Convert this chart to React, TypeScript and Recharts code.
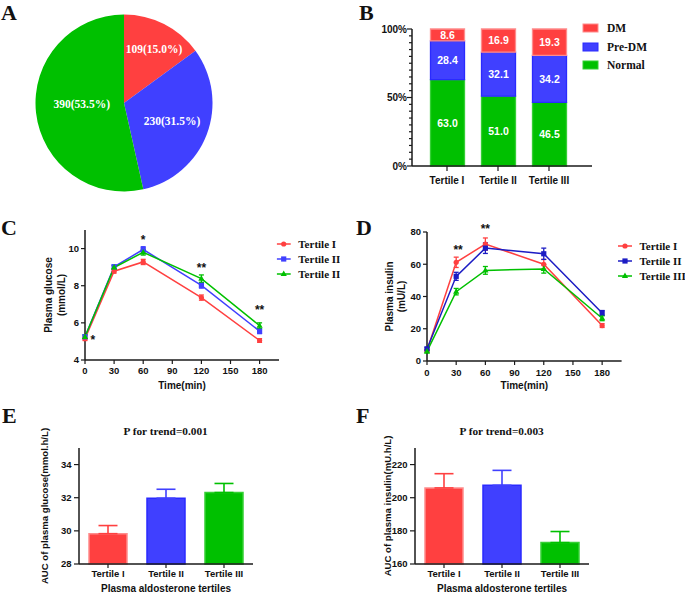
import React from "react";
import {
  PieChart,
  Pie,
  Cell,
  BarChart,
  Bar,
  LabelList,
  ErrorBar,
  LineChart,
  Line,
  ReferenceDot,
  XAxis,
  YAxis,
} from "recharts";

// ---------------------------------------------------------------------------
// Data
// ---------------------------------------------------------------------------

const GROUPS = ["DM", "Pre-DM", "Normal"];
const GROUP_COUNTS = [109, 230, 390];
const GROUP_PCT = ["15.0", "31.5", "53.5"];

const TERTILES = ["Tertile I", "Tertile II", "Tertile III"];
const NORMAL_PCT = [63.0, 51.0, 46.5];
const PREDM_PCT = [28.4, 32.1, 34.2];
const DM_PCT = [8.6, 16.9, 19.3];
const PCT_TICKS = [0, 5, 10, 15, 20, 25, 30, 35, 40, 45, 50, 55, 60, 65, 70, 75, 80, 85, 90, 95, 100];
const PCT_LABELED = [0, 50, 100];

const TIMES = [0, 30, 60, 120, 180];
const TIME_TICKS = [0, 30, 60, 90, 120, 150, 180];

const GLUCOSE_T1 = [5.15, 8.78, 9.28, 7.36, 5.05];
const GLUCOSE_T1_SE = [0.1, 0.1, 0.14, 0.14, 0.1];
const GLUCOSE_T2 = [5.25, 9.02, 9.95, 8.02, 5.55];
const GLUCOSE_T2_SE = [0.1, 0.1, 0.15, 0.15, 0.13];
const GLUCOSE_T3 = [5.25, 8.98, 9.8, 8.38, 5.85];
const GLUCOSE_T3_SE = [0.1, 0.1, 0.15, 0.2, 0.15];
const GLUCOSE_TICKS = [4, 6, 8, 10];
const GLUCOSE_STARS = [
  { t: 8, v: 5.08, text: "*" },
  { t: 60, v: 10.5, text: "*" },
  { t: 120, v: 8.98, text: "**" },
  { t: 180, v: 6.7, text: "**" },
];

const INSULIN_T1 = [6.5, 61.2, 72.5, 60.0, 22.0];
const INSULIN_T1_SE = [1.0, 3.2, 3.8, 3.0, 1.2];
const INSULIN_T2 = [7.5, 52.5, 70.0, 66.5, 29.8];
const INSULIN_T2_SE = [1.0, 2.5, 3.3, 3.5, 1.5];
const INSULIN_T3 = [6.0, 43.0, 56.2, 57.1, 26.5];
const INSULIN_T3_SE = [1.0, 2.0, 2.4, 2.6, 1.5];
const INSULIN_TICKS = [0, 20, 40, 60, 80];
const INSULIN_STARS = [
  { t: 32, v: 68.7, text: "**" },
  { t: 60, v: 82.1, text: "**" },
];

const AUC_GLUCOSE = [29.83, 31.97, 32.31];
const AUC_GLUCOSE_SE = [0.49, 0.54, 0.55];
const AUC_GLUCOSE_TICKS = [28, 30, 32, 34];

const AUC_INSULIN = [205.9, 207.5, 172.9];
const AUC_INSULIN_SE = [8.6, 9.0, 6.7];
const AUC_INSULIN_TICKS = [160, 180, 200, 220];

// ---------------------------------------------------------------------------
// Style tokens
// ---------------------------------------------------------------------------

const SANS = "'Liberation Sans', Arial, Helvetica, sans-serif";
const SERIF = "'Liberation Serif', 'Times New Roman', serif";
const INK = "#111";
const AXIS = "#1a1a1a";

const RED = "#FF4040";
const BLUE = "#4040FF";
const GREEN = "#00C000";
const NAVY = "#1C1CC4";
const RED_EDGE = "#FF8C8C";
const BLUE_EDGE = "#2A2AFF";
const GREEN_EDGE = "#35CF35";

const GROUP_COLORS = [RED, BLUE, GREEN];
const GROUP_EDGES = [RED_EDGE, BLUE_EDGE, GREEN_EDGE];

const AXIS_LINE = { stroke: AXIS, strokeWidth: 1.5 };
const TICK_LINE = { stroke: AXIS, strokeWidth: 1.2 };
const tickStyle = (size: number) => ({
  fill: INK,
  fontSize: size,
  fontWeight: "bold",
  fontFamily: SANS,
});

type Shape = "circle" | "square" | "triangle";

function marker(shape: Shape, cx: number, cy: number, color: string, key?: string) {
  if (shape === "circle") return <circle key={key} cx={cx} cy={cy} r={2.6} fill={color} />;
  if (shape === "square")
    return <rect key={key} x={cx - 2.6} y={cy - 2.6} width={5.2} height={5.2} fill={color} />;
  return (
    <path key={key} d={`M${cx},${cy - 3.4}L${cx + 3.1},${cy + 2.1}L${cx - 3.1},${cy + 2.1}Z`} fill={color} />
  );
}

const markerDot = (shape: Shape, color: string) => (props: any) =>
  marker(shape, props.cx, props.cy, color, `dot-${props.index}`);

// rotated axis title, one or two lines, centred on the plot height
function VerticalTitle({ viewBox, lines, xs, size = 10 }: any) {
  const cy = viewBox.y + viewBox.height / 2;
  return (
    <g>
      {lines.map((t: string, i: number) => (
        <text
          key={t}
          x={xs[i]}
          y={cy}
          dy="0.35em"
          textAnchor="middle"
          transform={`rotate(-90 ${xs[i]} ${cy})`}
          fill={INK}
          fontSize={size}
          fontWeight="bold"
          fontFamily={SANS}
        >
          {t}
        </text>
      ))}
    </g>
  );
}

// ---------------------------------------------------------------------------
// A. Pie of glucose status
// ---------------------------------------------------------------------------

const PIE_LABEL_R = [0.7, 0.58, 0.48];
const PIE_LABEL_DY = [1, 0, -3.5];

function renderPieLabel(p: any) {
  const rad = Math.PI / 180;
  const r = p.outerRadius * PIE_LABEL_R[p.index];
  const x = p.cx + r * Math.cos(-p.midAngle * rad) + (p.index === 0 ? 2 : 0);
  const y = p.cy + r * Math.sin(-p.midAngle * rad) + PIE_LABEL_DY[p.index];
  return (
    <text
      key={`pl-${p.index}`}
      x={x}
      y={y}
      dy="0.35em"
      textAnchor="middle"
      fill="#fff"
      fontSize={11.5}
      fontWeight="bold"
      fontFamily={SERIF}
    >
      {`${GROUP_COUNTS[p.index]}(${GROUP_PCT[p.index]}%)`}
    </text>
  );
}

function PanelA() {
  const data = GROUPS.map((name, i) => ({ name, value: GROUP_COUNTS[i] }));
  return (
    <PieChart width={340} height={200} margin={{ top: 0, right: 0, bottom: 0, left: 0 }}>
      <Pie
        data={data}
        dataKey="value"
        nameKey="name"
        cx={124}
        cy={103}
        outerRadius={88.5}
        startAngle={90}
        endAngle={-270}
        stroke="none"
        label={renderPieLabel}
        labelLine={false}
        isAnimationActive={false}
      >
        {data.map((_, i) => (
          <Cell key={`c-${i}`} fill={GROUP_COLORS[i]} />
        ))}
      </Pie>
    </PieChart>
  );
}

// ---------------------------------------------------------------------------
// B. Stacked percentage bars
// ---------------------------------------------------------------------------

const B_TICK_SIZE = 5;
const B_TICK_MARGIN = 0;

function PercentTick(props: any) {
  const { x, y, payload } = props;
  const axisX = x + B_TICK_SIZE + B_TICK_MARGIN;
  const labeled = PCT_LABELED.includes(payload.value);
  return (
    <g>
      <line x1={axisX - (labeled ? 5 : 3)} x2={axisX} y1={y} y2={y} stroke={AXIS} strokeWidth={1.2} />
      {labeled && (
        <text x={x} y={y} dy="0.355em" textAnchor="end" {...tickStyle(10)}>
          {`${payload.value}%`}
        </text>
      )}
    </g>
  );
}

function PanelB() {
  const data = TERTILES.map((name, i) => ({
    name,
    normal: NORMAL_PCT[i],
    predm: PREDM_PCT[i],
    dm: DM_PCT[i],
  }));
  const segs = [
    { key: "normal", fill: GREEN, edge: GREEN_EDGE },
    { key: "predm", fill: BLUE, edge: BLUE_EDGE },
    { key: "dm", fill: RED, edge: RED_EDGE },
  ];
  return (
    <BarChart width={345} height={200} data={data} margin={{ top: 29, right: 93, bottom: 4, left: 0 }}>
      <XAxis
        dataKey="name"
        height={30}
        padding={{ left: 9.5, right: 17.5 }}
        axisLine={AXIS_LINE}
        tickLine={TICK_LINE}
        tickSize={5}
        tickMargin={5.5}
        tick={tickStyle(10)}
        interval={0}
      />
      <YAxis
        type="number"
        domain={[0, 100]}
        ticks={PCT_TICKS}
        width={72}
        axisLine={AXIS_LINE}
        tickLine={false}
        tickSize={B_TICK_SIZE}
        tickMargin={B_TICK_MARGIN}
        tick={PercentTick}
        interval={0}
      />
      {segs.map((s) => (
        <Bar
          key={s.key}
          dataKey={s.key}
          stackId="pct"
          barSize={34}
          fill={s.fill}
          stroke={s.edge}
          strokeWidth={1.3}
          isAnimationActive={false}
        >
          <LabelList
            dataKey={s.key}
            position="center"
            fill="#fff"
            fontSize={10.5}
            fontWeight="bold"
            fontFamily={SANS}
            formatter={(v: any) => Number(v).toFixed(1)}
          />
        </Bar>
      ))}
    </BarChart>
  );
}

// ---------------------------------------------------------------------------
// C / D. OGTT curves
// ---------------------------------------------------------------------------

type Series = { key: string; name: string; color: string; shape: Shape };

const GLUCOSE_SERIES: Series[] = [
  { key: "t1", name: "Tertile I", color: RED, shape: "circle" },
  { key: "t2", name: "Tertile II", color: BLUE, shape: "square" },
  { key: "t3", name: "Tertile III", color: GREEN, shape: "triangle" },
];
const INSULIN_SERIES: Series[] = [
  { key: "t1", name: "Tertile I", color: RED, shape: "circle" },
  { key: "t2", name: "Tertile II", color: NAVY, shape: "square" },
  { key: "t3", name: "Tertile III", color: GREEN, shape: "triangle" },
];

type CurveProps = {
  width: number;
  rows: any[];
  series: Series[];
  margin: { top: number; right: number; bottom: number; left: number };
  yWidth: number;
  xHeight: number;
  xTickMargin: number;
  yDomain: [number, number];
  yTicks: number[];
  stars: { t: number; v: number; text: string }[];
  titleLines: string[];
  titleXs: number[];
};

function CurveChart(p: CurveProps) {
  return (
    <LineChart width={p.width} height={195} data={p.rows} margin={p.margin}>
      <XAxis
        dataKey="t"
        type="number"
        domain={[0, 200]}
        ticks={TIME_TICKS}
        height={p.xHeight}
        axisLine={AXIS_LINE}
        tickLine={TICK_LINE}
        tickSize={4}
        tickMargin={p.xTickMargin}
        tick={tickStyle(9.5)}
        interval={0}
        label={{
          value: "Time(min)",
          position: "insideBottom",
          offset: 6.4,
          fill: INK,
          fontSize: 10,
          fontWeight: "bold",
          fontFamily: SANS,
        }}
      />
      <YAxis
        type="number"
        domain={p.yDomain}
        ticks={p.yTicks}
        width={p.yWidth}
        axisLine={AXIS_LINE}
        tickLine={TICK_LINE}
        tickSize={4}
        tickMargin={2}
        tick={tickStyle(9.5)}
        interval={0}
        label={<VerticalTitle lines={p.titleLines} xs={p.titleXs} />}
      />
      {p.series.map((s) => (
        <Line
          key={s.key}
          dataKey={s.key}
          stroke={s.color}
          strokeWidth={1.5}
          dot={markerDot(s.shape, s.color)}
          activeDot={false}
          isAnimationActive={false}
        >
          <ErrorBar dataKey={`${s.key}e`} direction="y" width={2.5} stroke={s.color} strokeWidth={1.3} />
        </Line>
      ))}
      {p.stars.map((s, i) => (
        <ReferenceDot
          key={`star-${i}`}
          x={s.t}
          y={s.v}
          r={0}
          fill="none"
          stroke="none"
          ifOverflow="visible"
          label={{
            value: s.text,
            position: "center",
            fill: INK,
            fontSize: 12,
            fontWeight: "bold",
            fontFamily: SANS,
          }}
        />
      ))}
    </LineChart>
  );
}

function PanelC() {
  const rows = TIMES.map((t, i) => ({
    t,
    t1: GLUCOSE_T1[i],
    t1e: GLUCOSE_T1_SE[i],
    t2: GLUCOSE_T2[i],
    t2e: GLUCOSE_T2_SE[i],
    t3: GLUCOSE_T3[i],
    t3e: GLUCOSE_T3_SE[i],
  }));
  return (
    <CurveChart
      width={340}
      rows={rows}
      series={GLUCOSE_SERIES}
      margin={{ top: 30, right: 61, bottom: 0, left: 0 }}
      yWidth={85}
      xHeight={35}
      xTickMargin={3.6}
      yDomain={[4, 11]}
      yTicks={GLUCOSE_TICKS}
      stars={GLUCOSE_STARS}
      titleLines={["Plasma glucose", "(mmol/L)"]}
      titleXs={[48, 61.5]}
    />
  );
}

function PanelD() {
  const rows = TIMES.map((t, i) => ({
    t,
    t1: INSULIN_T1[i],
    t1e: INSULIN_T1_SE[i],
    t2: INSULIN_T2[i],
    t2e: INSULIN_T2_SE[i],
    t3: INSULIN_T3[i],
    t3e: INSULIN_T3_SE[i],
  }));
  return (
    <CurveChart
      width={345}
      rows={rows}
      series={INSULIN_SERIES}
      margin={{ top: 32, right: 63.4, bottom: 0, left: 0 }}
      yWidth={87}
      xHeight={34}
      xTickMargin={4.3}
      yDomain={[0, 80]}
      yTicks={INSULIN_TICKS}
      stars={INSULIN_STARS}
      titleLines={["Plasma insulin", "(mU/L)"]}
      titleXs={[49.3, 61.7]}
    />
  );
}

// ---------------------------------------------------------------------------
// E / F. AUC bars
// ---------------------------------------------------------------------------

type AucProps = {
  width: number;
  values: number[];
  errors: number[];
  yWidth: number;
  right: number;
  yDomain: [number, number];
  yTicks: number[];
  title: string;
  titleX: number;
};

function AucChart(p: AucProps) {
  // one error column per tertile so every whisker keeps its bar colour
  const rows = TERTILES.map((name, i) => {
    const row: any = { name, v: p.values[i] };
    row[`e${i}`] = [0, p.errors[i]];
    return row;
  });
  return (
    <BarChart width={p.width} height={199} data={rows} margin={{ top: 53, right: p.right, bottom: 0, left: 0 }}>
      <XAxis
        dataKey="name"
        height={30}
        axisLine={AXIS_LINE}
        tickLine={TICK_LINE}
        tickSize={4}
        tickMargin={2.6}
        tick={tickStyle(9.5)}
        interval={0}
        label={{
          value: "Plasma aldosterone tertiles",
          position: "insideBottom",
          offset: 2.2,
          fill: INK,
          fontSize: 10,
          fontWeight: "bold",
          fontFamily: SANS,
        }}
      />
      <YAxis
        type="number"
        domain={p.yDomain}
        ticks={p.yTicks}
        width={p.yWidth}
        axisLine={AXIS_LINE}
        tickLine={TICK_LINE}
        tickSize={5}
        tickMargin={2.5}
        tick={tickStyle(9.5)}
        interval={0}
        label={<VerticalTitle lines={[p.title]} xs={[p.titleX]} size={9.6} />}
      />
      <Bar dataKey="v" barSize={38} strokeWidth={1.5} isAnimationActive={false}>
        {rows.map((_, i) => (
          <Cell key={`b-${i}`} fill={GROUP_COLORS[i]} stroke={GROUP_EDGES[i]} />
        ))}
        {rows.map((_, i) => (
          <ErrorBar
            key={`e-${i}`}
            dataKey={`e${i}`}
            direction="y"
            width={9.5}
            stroke={GROUP_COLORS[i]}
            strokeWidth={1.6}
          />
        ))}
      </Bar>
    </BarChart>
  );
}

// ---------------------------------------------------------------------------
// Overlay: panel letters, titles, legends
// ---------------------------------------------------------------------------

function LineLegend({ x, y, width, series, textX }: any) {
  return (
    <svg x={x} y={y - 7.5} width={width} height={46} overflow="hidden">
      {series.map((s: Series, i: number) => {
        const ry = 7.5 + i * 15;
        return (
          <g key={s.key}>
            <line x1={0} x2={14} y1={ry} y2={ry} stroke={s.color} strokeWidth={1.5} />
            {marker(s.shape, 7, ry, s.color)}
            <text x={textX} y={ry} dy="0.35em" fill={INK} fontSize={11} fontWeight="bold" fontFamily={SERIF}>
              {s.name}
            </text>
          </g>
        );
      })}
    </svg>
  );
}

function Overlay() {
  const letter = (t: string, x: number, y: number) => (
    <text key={t} x={x} y={y} fill={INK} fontSize={22} fontWeight="bold" fontFamily={SERIF}>
      {t}
    </text>
  );
  const legendRows = [28, 47, 65];
  return (
    <svg
      width={685}
      height={594}
      style={{ position: "absolute", left: 0, top: 0, pointerEvents: "none" }}
    >
      {letter("A", 1, 19.5)}
      {letter("B", 359, 19.5)}
      {letter("C", 1, 235)}
      {letter("D", 356, 235)}
      {letter("E", 2, 423)}
      {letter("F", 356, 423)}

      {GROUPS.map((g, i) => (
        <g key={g}>
          <rect
            x={583}
            y={legendRows[i] - 4}
            width={15}
            height={8}
            fill={GROUP_COLORS[i]}
            stroke={GROUP_EDGES[i]}
            strokeWidth={1}
          />
          <text x={607} y={legendRows[i]} dy="0.35em" fill={INK} fontSize={11.5} fontWeight="bold" fontFamily={SERIF}>
            {g}
          </text>
        </g>
      ))}

      <LineLegend x={276.7} y={244} width={63.3} series={GLUCOSE_SERIES} textX={21.6} />
      <LineLegend x={618} y={246} width={67} series={INSULIN_SERIES} textX={21.5} />

      <text x={165.7} y={430.7} dy="0.35em" textAnchor="middle" fill={INK} fontSize={11.3} fontWeight="bold" fontFamily={SERIF}>
        P for trend=0.001
      </text>
      <text x={501.7} y={430.7} dy="0.35em" textAnchor="middle" fill={INK} fontSize={11.3} fontWeight="bold" fontFamily={SERIF}>
        P for trend=0.003
      </text>
    </svg>
  );
}

// ---------------------------------------------------------------------------
// Figure
// ---------------------------------------------------------------------------

const box = (left: number, top: number): React.CSSProperties => ({ position: "absolute", left, top });

export default function App() {
  return (
    <div
      style={{
        position: "absolute",
        left: 0,
        top: 0,
        width: 685,
        height: 594,
        background: "#fff",
        overflow: "hidden",
      }}
    >
      <div style={box(0, 0)}>
        <PanelA />
      </div>
      <div style={box(340, 0)}>
        <PanelB />
      </div>
      <div style={box(0, 200)}>
        <PanelC />
      </div>
      <div style={box(340, 200)}>
        <PanelD />
      </div>
      <div style={box(0, 395)}>
        <AucChart
          width={340}
          values={AUC_GLUCOSE}
          errors={AUC_GLUCOSE_SE}
          yWidth={79}
          right={87}
          yDomain={[28, 35]}
          yTicks={AUC_GLUCOSE_TICKS}
          title="AUC of plasma glucose(mmol.h/L)"
          titleX={45}
        />
      </div>
      <div style={box(340, 395)}>
        <AucChart
          width={345}
          values={AUC_INSULIN}
          errors={AUC_INSULIN_SE}
          yWidth={75}
          right={96}
          yDomain={[160, 230]}
          yTicks={AUC_INSULIN_TICKS}
          title="AUC of plasma insulin(mU.h/L)"
          titleX={47.5}
        />
      </div>
      <Overlay />
    </div>
  );
}
